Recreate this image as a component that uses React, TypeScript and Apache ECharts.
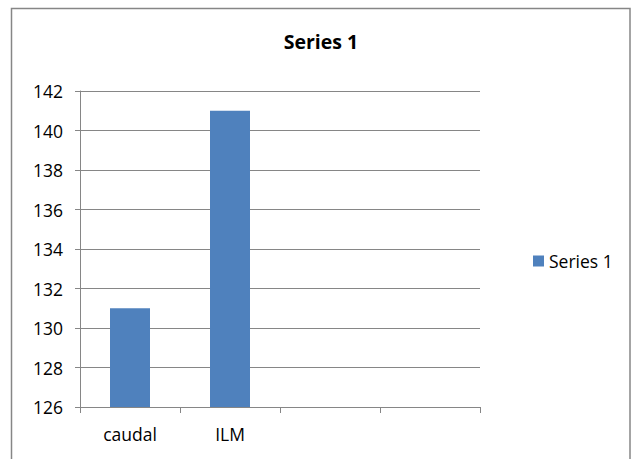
import React, { useEffect, useRef } from "react";
import * as echarts from "echarts";

const categories = ["caudal", "ILM", "", ""];
const seriesName = "Series 1";
const values = [131, 141, null, null];
const yMin = 126;
const yMax = 142;
const yInterval = 2;

export default function App() {
  const ref = useRef<HTMLDivElement>(null);
  useEffect(() => {
    if (!ref.current) return;
    const chart = echarts.init(ref.current, null, { renderer: "svg" });
    const font = "'Open Sans', sans-serif";
    const gray = "#868686";
    chart.setOption({
      animation: false,
      backgroundColor: "#ffffff",
      textStyle: { fontFamily: font, color: "#000" },
      title: {
        text: seriesName,
        left: 321,
        textAlign: "center",
        top: 31,
        padding: 0,
        textStyle: { fontFamily: font, fontWeight: "bold", fontSize: 19.5, color: "#000" },
      },
      legend: {
        data: [seriesName],
        left: 533,
        top: 252,
        padding: 0,
        icon: "rect",
        itemWidth: 11,
        itemHeight: 11,
        itemGap: 5,
        textStyle: { fontFamily: font, fontSize: 17.5, color: "#000" },
      },
      grid: { left: 80, right: 151, top: 91, bottom: 52, containLabel: false },
      xAxis: {
        type: "category",
        data: categories,
        boundaryGap: true,
        axisLine: { show: true, lineStyle: { color: gray, width: 1 } },
        axisTick: { show: true, inside: false, length: 6, alignWithLabel: false, lineStyle: { color: gray } },
        axisLabel: { show: true, margin: 18, fontFamily: font, fontSize: 17.5, color: "#000" },
        splitLine: { show: false },
      },
      yAxis: {
        type: "value",
        min: yMin,
        max: yMax,
        interval: yInterval,
        axisLine: { show: true, lineStyle: { color: gray, width: 1 } },
        axisTick: { show: true, inside: false, length: 5, lineStyle: { color: gray } },
        axisLabel: { margin: 17, fontFamily: font, fontSize: 17.5, color: "#000" },
        splitLine: { show: true, lineStyle: { color: gray, width: 1 } },
      },
      series: [
        {
          name: seriesName,
          type: "bar",
          data: values,
          barWidth: "40%",
          itemStyle: { color: "#4F81BD" },
        },
      ],
      graphic: [
        {
          type: "rect",
          shape: { x: 11.5, y: 8.5, width: 618.5, height: 460 },
          style: { fill: "none", stroke: gray, lineWidth: 1.5 },
          silent: true,
        },
      ],
    });
    return () => chart.dispose();
  }, []);
  return (
    <div
      ref={ref}
      style={{ position: "fixed", left: 0, top: 0, width: 631, height: 459 }}
    />
  );
}
